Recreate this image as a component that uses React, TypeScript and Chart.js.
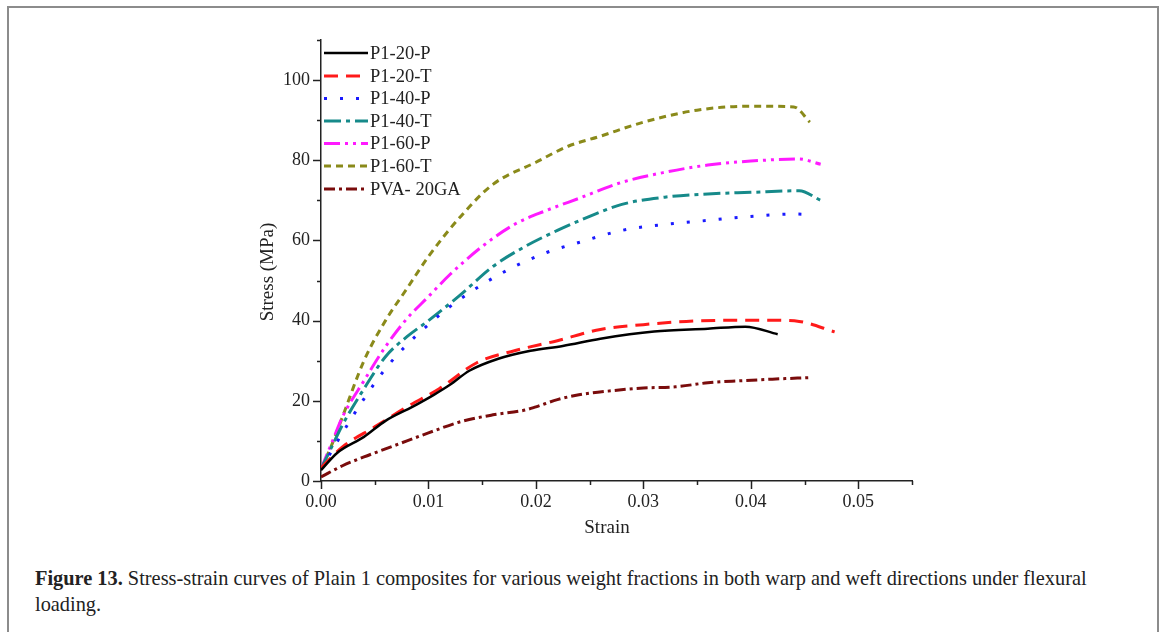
import React, { useEffect, useRef } from "react";
import { Chart, registerables } from "chart.js";

Chart.register(...registerables);

const seriesNames = ["P1-20-P", "P1-20-T", "P1-40-P", "P1-40-T", "P1-60-P", "P1-60-T", "PVA- 20GA"];
const seriesColors = ["#000000", "#ff1a1a", "#1a1aff", "#168a8a", "#ff1aff", "#8a8a1a", "#7a0c0c"];
const seriesDashes: number[][] = [[], [14, 8], [3, 13], [17, 5, 4, 5], [16, 5, 3, 5, 3, 5], [7, 5], [11, 4, 3, 4]];
const seriesWidths = [2.5, 3, 3, 3, 3, 3, 3];

const p120pStrain = [0, 0.0015, 0.004, 0.006, 0.0085, 0.0105, 0.012, 0.0138, 0.0165, 0.0195, 0.0225, 0.026, 0.031, 0.036, 0.0395, 0.0425];
const p120pStress = [2.7, 7, 11, 15, 18.5, 21.5, 24, 27.5, 30.5, 32.5, 33.7, 35.5, 37.3, 38, 38.5, 36.6];

const p120tStrain = [0, 0.002, 0.005, 0.008, 0.011, 0.0145, 0.018, 0.022, 0.026, 0.030, 0.034, 0.038, 0.042, 0.0445, 0.0478];
const p120tStress = [3.3, 8.5, 13.5, 18.5, 23, 29.5, 32.5, 35, 37.8, 39, 39.8, 40.1, 40.1, 39.8, 37.2];

const p140pStrain = [0, 0.001, 0.002, 0.004, 0.006, 0.008, 0.010, 0.012, 0.015, 0.018, 0.021, 0.024, 0.028, 0.032, 0.036, 0.040, 0.044, 0.0458];
const p140pStress = [3, 7.5, 12, 20.5, 28, 34, 39, 43.5, 49, 53.5, 57, 59.5, 62.5, 64, 65, 66, 66.6, 66.4];

const p140tStrain = [0, 0.001, 0.002, 0.004, 0.006, 0.008, 0.010, 0.013, 0.016, 0.019, 0.022, 0.025, 0.028, 0.032, 0.036, 0.040, 0.0445, 0.0465];
const p140tStress = [3, 8.5, 14, 23, 31, 36, 40, 46.5, 53.5, 58.5, 62.5, 66, 69, 70.8, 71.6, 72, 72.4, 70];

const p160pStrain = [0, 0.001, 0.002, 0.004, 0.006, 0.008, 0.010, 0.012, 0.015, 0.018, 0.021, 0.024, 0.028, 0.032, 0.036, 0.040, 0.0445, 0.0465];
const p160pStress = [3, 9.5, 16, 25, 33.5, 40.5, 46, 51.5, 58.5, 64, 67.5, 70.5, 74.5, 77, 78.8, 79.8, 80.3, 79];

const p160tStrain = [0, 0.001, 0.002, 0.004, 0.006, 0.008, 0.010, 0.013, 0.016, 0.020, 0.023, 0.026, 0.030, 0.035, 0.040, 0.044, 0.0455];
const p160tStress = [3, 9, 16, 30, 40, 48, 56, 66, 74, 79.5, 83.5, 86, 89.5, 92.5, 93.5, 93.3, 89.5];

const pvaStrain = [0, 0.002, 0.004, 0.006, 0.008, 0.010, 0.013, 0.016, 0.019, 0.020, 0.022, 0.024, 0.027, 0.030, 0.033, 0.036, 0.039, 0.042, 0.0455];
const pvaStress = [1, 3.8, 6, 8, 10, 12, 14.8, 16.5, 17.7, 18.5, 20.3, 21.5, 22.5, 23.2, 23.5, 24.5, 25, 25.4, 25.8];

const xTickLabels = ["0.00", "0.01", "0.02", "0.03", "0.04", "0.05"];
const yTickLabels = ["0", "20", "40", "60", "80", "100"];
const xTitle = "Strain";
const yTitle = "Stress (MPa)";

const allStrain = [p120pStrain, p120tStrain, p140pStrain, p140tStrain, p160pStrain, p160tStrain, pvaStrain];
const allStress = [p120pStress, p120tStress, p140pStress, p140tStress, p160pStress, p160tStress, pvaStress];

const CANVAS_LEFT = 200;
const CANVAS_TOP = 0;
const CANVAS_W = 760;
const CANVAS_H = 560;
const FONT = "'Liberation Serif', 'Times New Roman', serif";

function isMultiple(v: number, step: number) {
  const r = v / step;
  return Math.abs(r - Math.round(r)) < 1e-6;
}

const tickPlugin = {
  id: "outwardTicks",
  afterDraw(chart: any) {
    const ctx = chart.ctx;
    const xs = chart.scales.x;
    const ys = chart.scales.y;
    const area = chart.chartArea;
    ctx.save();
    ctx.strokeStyle = "#222";
    ctx.lineWidth = 1.5;
    xs.ticks.forEach((t: any) => {
      const px = Math.round(xs.getPixelForValue(t.value)) + 0.5;
      const len = isMultiple(t.value, 0.01) ? 8 : 4;
      ctx.beginPath();
      ctx.moveTo(px, area.bottom);
      ctx.lineTo(px, area.bottom + len);
      ctx.stroke();
    });
    ys.ticks.forEach((t: any) => {
      const py = Math.round(ys.getPixelForValue(t.value)) + 0.5;
      const len = isMultiple(t.value, 20) ? 8 : 4;
      ctx.beginPath();
      ctx.moveTo(area.left, py);
      ctx.lineTo(area.left - len, py);
      ctx.stroke();
    });
    ctx.fillStyle = "#222";
    ctx.font = `19px ${FONT}`;
    ctx.textAlign = "center";
    ctx.textBaseline = "middle";
    ctx.fillText(xTitle, 607 - CANVAS_LEFT, 528 - CANVAS_TOP);
    ctx.save();
    ctx.translate(268 - CANVAS_LEFT, 272 - CANVAS_TOP);
    ctx.rotate(-Math.PI / 2);
    ctx.fillText(yTitle, 0, 0);
    ctx.restore();
    const rows = [53, 76, 98.5, 121, 143.5, 166, 189];
    chart.data.datasets.forEach((ds: any, i: number) => {
      const y = rows[i] - CANVAS_TOP;
      ctx.save();
      ctx.strokeStyle = ds.borderColor;
      ctx.lineWidth = ds.borderWidth;
      ctx.setLineDash(ds.borderDash || []);
      ctx.beginPath();
      ctx.moveTo(324 - CANVAS_LEFT, y);
      ctx.lineTo(368 - CANVAS_LEFT, y);
      ctx.stroke();
      ctx.restore();
      ctx.fillStyle = "#222";
      ctx.font = `18.5px ${FONT}`;
      ctx.textAlign = "left";
      ctx.textBaseline = "middle";
      ctx.fillText(ds.label, 370 - CANVAS_LEFT, y + 1);
    });
    ctx.restore();
  },
};

export default function App() {
  const ref = useRef<HTMLCanvasElement | null>(null);
  useEffect(() => {
    if (!ref.current) return;
    const datasets = seriesNames.map((name, i) => ({
      label: name,
      data: allStrain[i].map((x, j) => ({ x, y: allStress[i][j] })),
      borderColor: seriesColors[i],
      backgroundColor: seriesColors[i],
      borderWidth: seriesWidths[i],
      borderDash: seriesDashes[i],
      pointRadius: 0,
      fill: false,
      cubicInterpolationMode: "monotone" as const,
    }));
    const chart = new Chart(ref.current, {
      type: "line",
      data: { datasets },
      options: {
        animation: false,
        responsive: false,
        layout: { padding: { top: 40 - CANVAS_TOP, right: CANVAS_LEFT + CANVAS_W - 912, left: 0, bottom: 0 } },
        plugins: { legend: { display: false }, tooltip: { enabled: false } },
        scales: {
          x: {
            type: "linear",
            min: 0,
            max: 0.055,
            grid: { display: false, drawTicks: false },
            border: { display: true, color: "#222", width: 1.5 },
            ticks: {
              stepSize: 0.005,
              autoSkip: false,
              maxRotation: 0,
              padding: 10,
              color: "#222",
              font: { family: FONT, size: 18 },
              callback: (v: any) => (isMultiple(Number(v), 0.01) ? xTickLabels[Math.round(Number(v) / 0.01)] : ""),
            },
            afterFit: (s: any) => {
              s.height = CANVAS_H - 481;
            },
          },
          y: {
            type: "linear",
            min: 0,
            max: 110,
            grid: { display: false, drawTicks: false },
            border: { display: true, color: "#222", width: 1.5 },
            ticks: {
              stepSize: 10,
              autoSkip: false,
              padding: 11,
              color: "#222",
              font: { family: FONT, size: 18 },
              callback: (v: any) => (isMultiple(Number(v), 20) ? yTickLabels[Math.round(Number(v) / 20)] : ""),
            },
            afterFit: (s: any) => {
              s.width = 321 - CANVAS_LEFT;
            },
          },
        },
      },
      plugins: [tickPlugin],
    });
    return () => chart.destroy();
  }, []);

  return (
    <div style={{ position: "absolute", left: 0, top: 0, width: 1167, height: 632, overflow: "hidden", background: "#fff" }}>
      <div
        style={{
          position: "absolute",
          left: 7,
          top: 6,
          width: 1152,
          height: 700,
          border: "2px solid #8c8c8c",
          boxSizing: "border-box",
        }}
      />
      <canvas
        ref={ref}
        width={CANVAS_W}
        height={CANVAS_H}
        style={{ position: "absolute", left: CANVAS_LEFT, top: CANVAS_TOP, width: CANVAS_W, height: CANVAS_H }}
      />
      <div
        style={{
          position: "absolute",
          left: 35,
          top: 565,
          fontFamily: FONT,
          fontSize: 20.35,
          lineHeight: "26px",
          color: "#222",
          whiteSpace: "nowrap",
        }}
      >
        <b>Figure 13.</b> Stress-strain curves of Plain 1 composites for various weight fractions in both warp and weft directions under flexural
        <br />
        loading.
      </div>
    </div>
  );
}
